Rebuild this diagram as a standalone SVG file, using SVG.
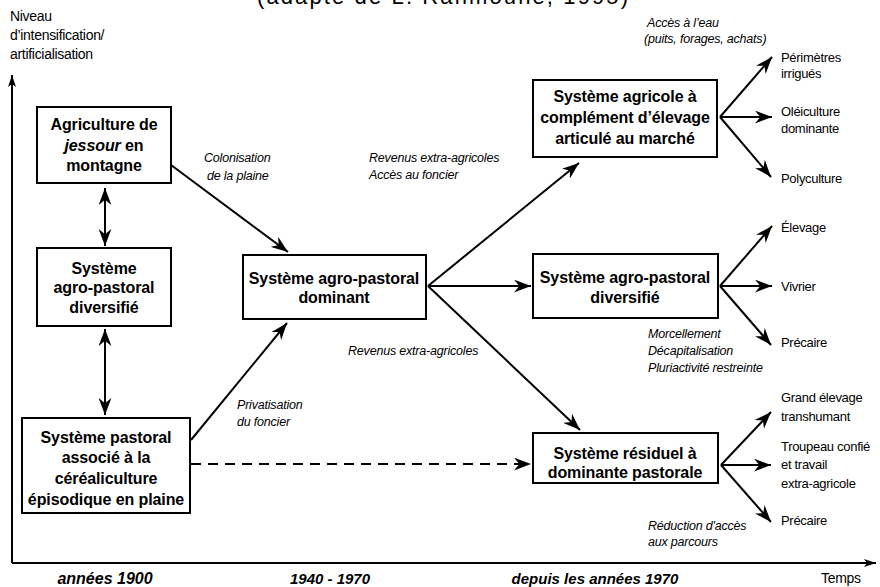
<svg xmlns="http://www.w3.org/2000/svg" width="880" height="587" viewBox="0 0 880 587">
<style>
text{font-family:"Liberation Sans",Arial,sans-serif;fill:#000}
.bx{font-size:16px;font-weight:bold;text-anchor:middle;letter-spacing:-0.1px}
.lb{font-size:13px;letter-spacing:-0.3px}
.it{font-size:12.5px;font-style:italic;letter-spacing:-0.2px}
.per{font-size:15px;font-weight:bold;font-style:italic;text-anchor:middle}
.box{fill:#fff;stroke:#000;stroke-width:2}
.c{stroke:#000;stroke-width:2;fill:none;marker-end:url(#ah)}
.d{marker-start:url(#ah)}
</style>
<defs>
<marker id="ah" viewBox="0 0 16 12" refX="16" refY="6" markerWidth="17" markerHeight="13" markerUnits="userSpaceOnUse" orient="auto-start-reverse"><path d="M0,0 L16,6 L0,12 L5,6 z" fill="#000"/></marker>
<marker id="ax" viewBox="0 0 12 8" refX="12" refY="4" markerWidth="12" markerHeight="8" markerUnits="userSpaceOnUse" orient="auto"><path d="M0,0 L12,4 L0,8 L3,4 z" fill="#000"/></marker>
</defs>
<rect width="880" height="587" fill="#fff"/>
<text x="257" y="4" font-family="Open Sans, sans-serif" font-size="22" textLength="371">(adapté de L. Rahmoune, 1995)</text>
<g id="axes">
<line x1="12" y1="563" x2="12" y2="75" stroke="#000" stroke-width="2" marker-end="url(#ax)"/>
<line x1="12" y1="563" x2="876" y2="563" stroke="#000" stroke-width="2" marker-end="url(#ax)"/>
<text class="lb" x="10" y="21" style="font-size:14px">Niveau</text>
<text class="lb" x="10" y="40" style="font-size:14px">d’intensification/</text>
<text class="lb" x="10" y="59" style="font-size:14px">artificialisation</text>
<text class="lb" x="821" y="583" style="font-size:14px">Temps</text>
<text class="per" x="105" y="584" style="font-size:16px">années 1900</text>
<text class="per" x="330" y="584">1940 - 1970</text>
<text class="per" x="595" y="584">depuis les années 1970</text>
</g>
<g id="connectors">
<line class="c d" x1="105" y1="188" x2="105" y2="246"/>
<line class="c d" x1="105" y1="329" x2="105" y2="415"/>
<line class="c" x1="171" y1="165" x2="288" y2="252"/>
<line class="c" x1="191" y1="440" x2="287" y2="323"/>
<line class="c" x1="191" y1="464" x2="531" y2="464" stroke-dasharray="10,7"/>
<line class="c" x1="428" y1="286" x2="579" y2="163"/>
<line class="c" x1="428" y1="286" x2="531" y2="286"/>
<line class="c" x1="428" y1="286" x2="580" y2="430"/>
<line class="c" x1="720" y1="117" x2="772" y2="57"/>
<line class="c" x1="720" y1="117" x2="772" y2="117"/>
<line class="c" x1="720" y1="117" x2="771" y2="177"/>
<line class="c" x1="720" y1="286" x2="772" y2="226"/>
<line class="c" x1="720" y1="286" x2="772" y2="286"/>
<line class="c" x1="720" y1="286" x2="771" y2="345"/>
<line class="c" x1="721" y1="465" x2="771" y2="412"/>
<line class="c" x1="721" y1="465" x2="771" y2="465"/>
<line class="c" x1="721" y1="465" x2="771" y2="522"/>
</g>
<g id="labels">
<text class="it" x="204" y="162">Colonisation</text>
<text class="it" x="207" y="180">de la plaine</text>
<text class="it" x="369" y="162">Revenus extra-agricoles</text>
<text class="it" x="369" y="179">Accès au foncier</text>
<text class="it" x="348" y="355">Revenus extra-agricoles</text>
<text class="it" x="237" y="409">Privatisation</text>
<text class="it" x="237" y="426">du foncier</text>
<text class="it" x="647" y="27">Accès à l’eau</text>
<text class="it" x="644" y="43">(puits, forages, achats)</text>
<text class="it" x="648" y="338">Morcellement</text>
<text class="it" x="648" y="355">Décapitalisation</text>
<text class="it" x="648" y="372">Pluriactivité restreinte</text>
<text class="it" x="648" y="530">Réduction d'accès</text>
<text class="it" x="648" y="546">aux parcours</text>
<text class="lb" x="781" y="62">Périmètres</text>
<text class="lb" x="781" y="78">irrigués</text>
<text class="lb" x="781" y="116">Oléiculture</text>
<text class="lb" x="781" y="133">dominante</text>
<text class="lb" x="781" y="183">Polyculture</text>
<text class="lb" x="781" y="232">Élevage</text>
<text class="lb" x="781" y="291">Vivrier</text>
<text class="lb" x="781" y="347">Précaire</text>
<text class="lb" x="781" y="402">Grand élevage</text>
<text class="lb" x="781" y="421">transhumant</text>
<text class="lb" x="781" y="451">Troupeau confié</text>
<text class="lb" x="781" y="469">et travail</text>
<text class="lb" x="781" y="488">extra-agricole</text>
<text class="lb" x="781" y="525">Précaire</text>
</g>
<g id="n1">
<rect class="box" x="37" y="107" width="134" height="76"/>
<text class="bx" x="104" y="130">Agriculture de</text>
<text class="bx" x="104" y="151"><tspan font-style="italic">jessour</tspan> en</text>
<text class="bx" x="104" y="171">montagne</text>
</g>
<g id="n2">
<rect class="box" x="37" y="248" width="134" height="78"/>
<text class="bx" x="104" y="274">Système</text>
<text class="bx" x="104" y="293">agro-pastoral</text>
<text class="bx" x="104" y="313">diversifié</text>
</g>
<g id="n3">
<rect class="box" x="22" y="418" width="168" height="95"/>
<text class="bx" x="106" y="443">Système pastoral</text>
<text class="bx" x="106" y="463">associé à la</text>
<text class="bx" x="106" y="484">céréaliculture</text>
<text class="bx" x="106" y="505">épisodique en plaine</text>
</g>
<g id="n4">
<rect class="box" x="243" y="255" width="183" height="64"/>
<text class="bx" x="334" y="284">Système agro-pastoral</text>
<text class="bx" x="334" y="303">dominant</text>
</g>
<g id="n5">
<rect class="box" x="533" y="80" width="184" height="77"/>
<text class="bx" x="625" y="102">Système agricole à</text>
<text class="bx" x="625" y="123">complément d’élevage</text>
<text class="bx" x="625" y="144">articulé au marché</text>
</g>
<g id="n6">
<rect class="box" x="533" y="254" width="185" height="64"/>
<text class="bx" x="625" y="283">Système agro-pastoral</text>
<text class="bx" x="625" y="303">diversifié</text>
</g>
<g id="n7">
<rect class="box" x="533" y="433" width="185" height="50"/>
<text class="bx" x="625" y="459">Système résiduel à</text>
<text class="bx" x="625" y="478">dominante pastorale</text>
</g>
</svg>
